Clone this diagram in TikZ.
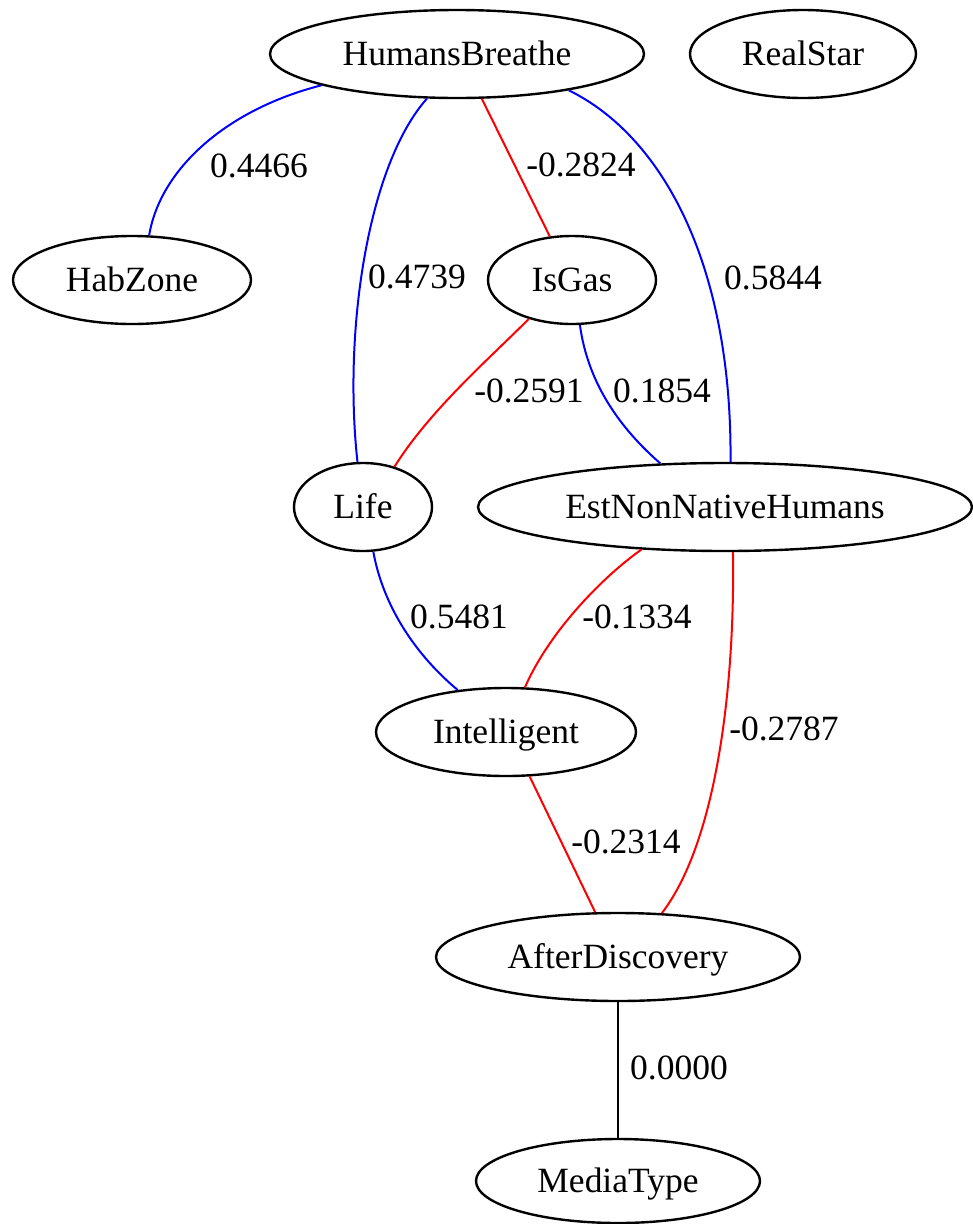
\documentclass[tikz,border=0pt]{standalone}
\usepackage{fontspec}
\setmainfont{Liberation Serif}
\usetikzlibrary{shapes.geometric}
\begin{document}
\begin{tikzpicture}[x=1pt,y=-1pt,
  every node/.style={font=\fontsize{35.5}{42}\selectfont},
  var/.style={ellipse,draw=black,line width=2.4pt,inner sep=0pt,text height=23pt,text depth=0pt,minimum height=88pt},
  lbl/.style={inner sep=0pt,text height=23pt,text depth=0pt},
  posedge/.style={draw=blue,line width=2pt},
  negedge/.style={draw=red,line width=2pt},
  zeroedge/.style={draw=black,line width=2pt}]
\useasboundingbox (0,0) rectangle (973,1224);
% nodes
\node[var,minimum width=374pt] (hb) at (457,54) {HumansBreathe};
\node[var,minimum width=226pt] (rs) at (803,54) {RealStar};
\node[var,minimum width=238pt] (hz) at (132,280) {HabZone};
\node[var,minimum width=168pt] (ig) at (572,280) {IsGas};
\node[var,minimum width=138pt] (life) at (363,507) {Life};
\node[var,minimum width=494pt] (est) at (725,507) {EstNonNativeHumans};
\node[var,minimum width=260pt] (intel) at (506,732) {Intelligent};
\node[var,minimum width=364pt] (ad) at (618,957) {AfterDiscovery};
\node[var,minimum width=284pt,minimum height=84pt] (mt) at (618,1181) {MediaType};
% edges
\draw[posedge] (hb.193.1) .. controls (225,110) and (160,170) .. (hz.69.3);
\draw[posedge] (hb.236.3) .. controls (368,165) and (343,330) .. (life.97.8);
\draw[negedge] (hb.299.1) -- (ig.117.6);
\draw[posedge] (hb.342) .. controls (660,135) and (732,260) .. (est.83.5);
\draw[negedge] (ig.222.3) .. controls (490,358) and (430,410) .. (life.52.7);
\draw[posedge] (ig.280.5) .. controls (588,385) and (622,430) .. (est.146.1);
\draw[posedge] (life.283.1) .. controls (382,600) and (410,650) .. (intel.139.9);
\draw[negedge] (est.207.7) .. controls (605,575) and (550,630) .. (intel.67.3);
\draw[negedge] (est.280.5) .. controls (735,680) and (718,840) .. (ad.45.6);
\draw[negedge] (intel.298.2) -- (ad.117);
\draw[zeroedge] (ad.south) -- (mt.north);
% labels
\node[lbl] (l1) at (259,166) {0.4466};
\node[lbl] (l2) at (417,277) {0.4739};
\node[lbl] (l3) at (581,165) {-0.2824};
\node[lbl] (l4) at (773,278) {0.5844};
\node[lbl] (l5) at (529,391) {-0.2591};
\node[lbl] (l6) at (662,391) {0.1854};
\node[lbl] (l7) at (459,617) {0.5481};
\node[lbl] (l8) at (637,617) {-0.1334};
\node[lbl] (l9) at (784,729) {-0.2787};
\node[lbl] (l10) at (626,842) {-0.2314};
\node[lbl] (l11) at (679,1068) {0.0000};
\end{tikzpicture}
\end{document}
